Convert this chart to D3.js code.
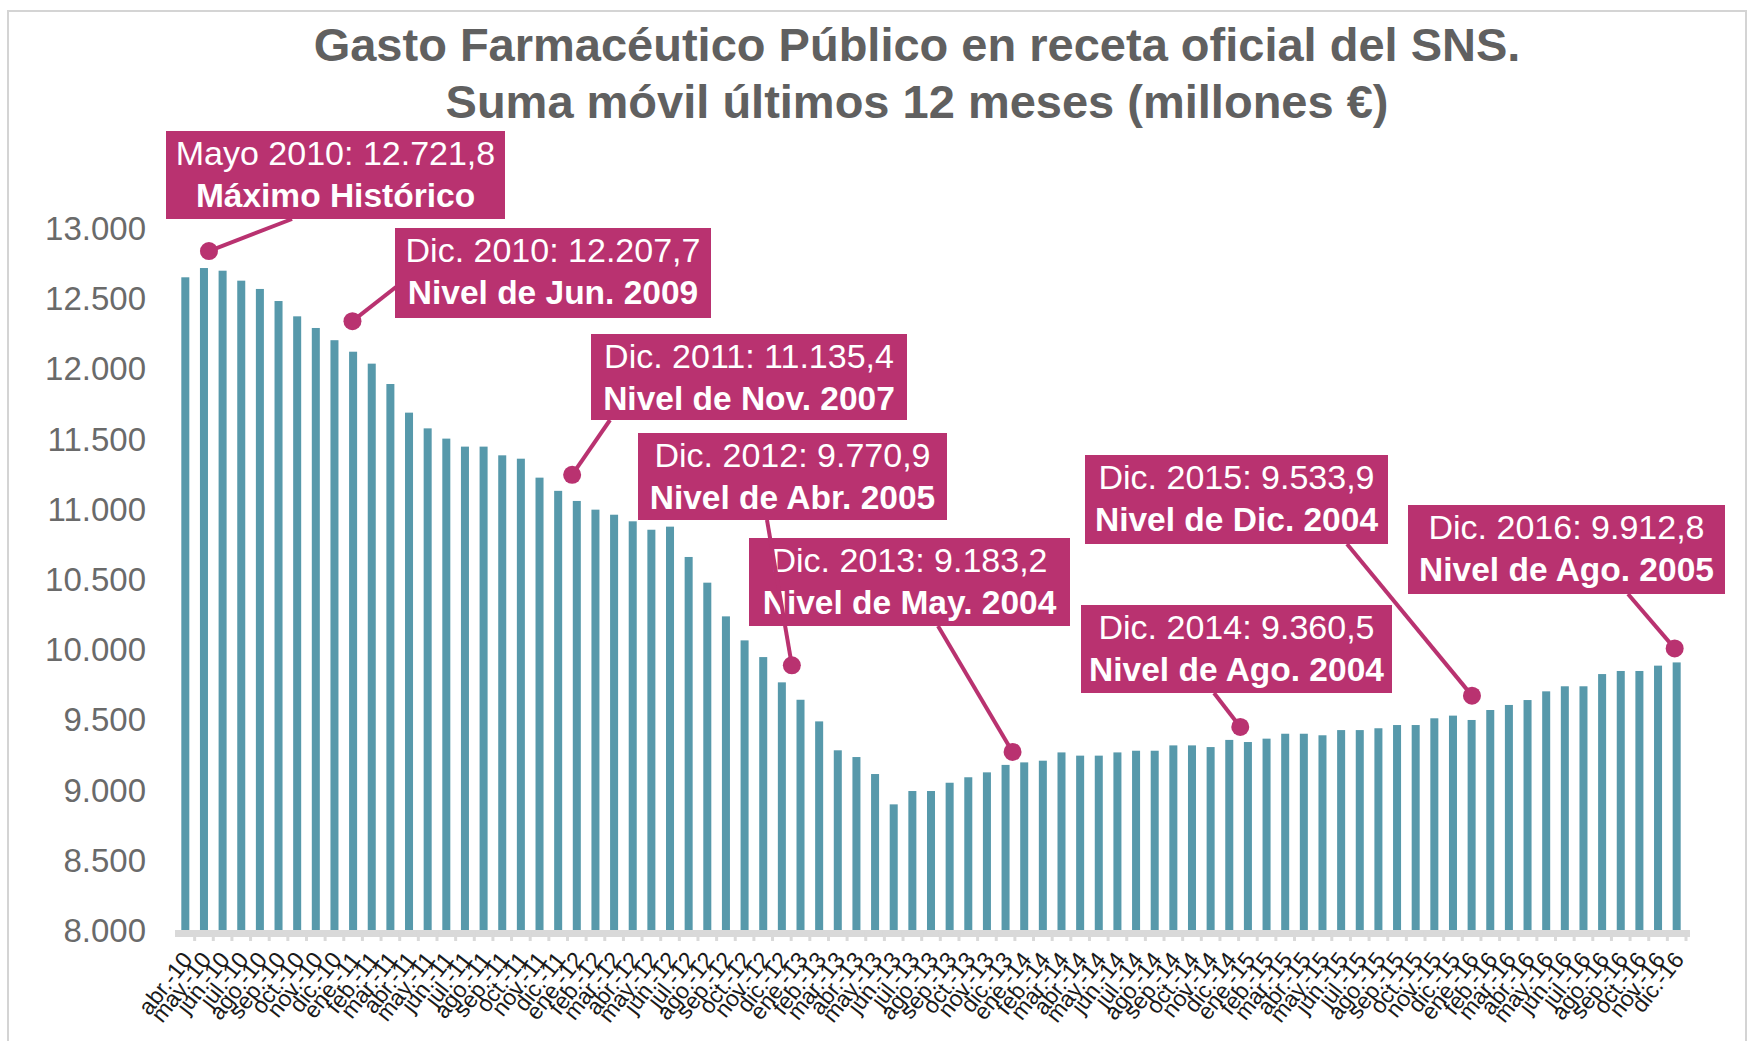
<!DOCTYPE html>
<html>
<head>
<meta charset="utf-8">
<script src="https://cdn.jsdelivr.net/npm/d3@7"></script>
<style>
  body { margin: 0; background: #fff; }
  svg { display: block; font-family: "Liberation Sans", Arial, Helvetica, sans-serif; }
</style>
</head>
<body>
<div id="chart"></div>
<script>
const months = [
  "abr.-10","may.-10","jun.-10","jul.-10","ago.-10","sep.-10","oct.-10","nov.-10","dic.-10",
  "ene.-11","feb.-11","mar.-11","abr.-11","may.-11","jun.-11","jul.-11","ago.-11","sep.-11","oct.-11","nov.-11","dic.-11",
  "ene.-12","feb.-12","mar.-12","abr.-12","may.-12","jun.-12","jul.-12","ago.-12","sep.-12","oct.-12","nov.-12","dic.-12",
  "ene.-13","feb.-13","mar.-13","abr.-13","may.-13","jun.-13","jul.-13","ago.-13","sep.-13","oct.-13","nov.-13","dic.-13",
  "ene.-14","feb.-14","mar.-14","abr.-14","may.-14","jun.-14","jul.-14","ago.-14","sep.-14","oct.-14","nov.-14","dic.-14",
  "ene.-15","feb.-15","mar.-15","abr.-15","may.-15","jun.-15","jul.-15","ago.-15","sep.-15","oct.-15","nov.-15","dic.-15",
  "ene.-16","feb.-16","mar.-16","abr.-16","may.-16","jun.-16","jul.-16","ago.-16","sep.-16","oct.-16","nov.-16","dic.-16"
];

// gasto, suma movil 12 meses (millones de euros)
const gasto = [
  12656, 12722, 12703, 12632, 12573, 12487, 12378, 12295, 12208,
  12126, 12041, 11896, 11692, 11580, 11507, 11450, 11450, 11388, 11364, 11229, 11135,
  11063, 11001, 10965, 10918, 10858, 10880, 10664, 10481, 10241, 10070, 9951, 9771,
  9647, 9493, 9287, 9239, 9118, 8902, 8997, 8997, 9056, 9095, 9130, 9183,
  9201, 9213, 9272, 9249, 9249, 9272, 9284, 9284, 9322, 9322, 9310, 9361,
  9346, 9370, 9405, 9405, 9394, 9431, 9431, 9444, 9467, 9467, 9515, 9534,
  9503, 9574, 9610, 9645, 9707, 9743, 9743, 9830, 9852, 9852, 9890, 9913
];

const yTicks = [8000, 8500, 9000, 9500, 10000, 10500, 11000, 11500, 12000, 12500, 13000];

const callMonths = ["may.-10", "dic.-10", "dic.-11", "dic.-12", "dic.-13", "dic.-14", "dic.-15", "dic.-16"];
const callLine1 = ["Mayo 2010: 12.721,8", "Dic. 2010: 12.207,7", "Dic. 2011: 11.135,4", "Dic. 2012: 9.770,9",
                   "Dic. 2013: 9.183,2", "Dic. 2014: 9.360,5", "Dic. 2015: 9.533,9", "Dic. 2016: 9.912,8"];
const callLine2 = ["Máximo Histórico", "Nivel de Jun. 2009", "Nivel de Nov. 2007", "Nivel de Abr. 2005",
                   "Nivel de May. 2004", "Nivel de Ago. 2004", "Nivel de Dic. 2004", "Nivel de Ago. 2005"];

// layout of the callout boxes (box rect, point where the leader meets the box, dot offset)
const callBox = [
  {x: 166, y: 131, w: 339, h: 88, lx: 292, ly: 219, dx: 5, lift: 17},
  {x: 395, y: 228, w: 316, h: 90, lx: 396, ly: 287, dx: 18, lift: 19},
  {x: 591, y: 334, w: 316, h: 86, lx: 610, ly: 420, dx: 14, lift: 16},
  {x: 638, y: 433, w: 309, h: 87, lx: 767, ly: 520, dx: 10, lift: 17},
  {x: 749, y: 538, w: 321, h: 88, lx: 938, ly: 626, dx: 7, lift: 13},
  {x: 1081, y: 605, w: 311, h: 88, lx: 1214, ly: 693, dx: 11, lift: 13},
  {x: 1085, y: 455, w: 303, h: 89, lx: 1347, ly: 544, dx: 19, lift: 20},
  {x: 1408, y: 505, w: 317, h: 89, lx: 1628, ly: 594, dx: -2, lift: 14}
];

const W = 1751, H = 1041;
const barColor = "#5799ab";
const callColor = "#b93270";

const svg = d3.select("#chart").append("svg")
  .attr("width", W).attr("height", H);

// frame
svg.append("rect")
  .attr("x", 8).attr("y", 11).attr("width", 1738).attr("height", 1045)
  .attr("fill", "none").attr("stroke", "#d4d4d4").attr("stroke-width", 2);

// title
const title = svg.append("text")
  .attr("text-anchor", "middle")
  .attr("fill", "#606060")
  .attr("font-weight", "bold")
  .attr("font-size", 47);
title.append("tspan").attr("x", 917).attr("y", 61).text("Gasto Farmacéutico Público en receta oficial del SNS.");
title.append("tspan").attr("x", 917).attr("y", 118).text("Suma móvil últimos 12 meses (millones €)");

const x = d3.scaleBand()
  .domain(months)
  .range([176, 1686])
  .paddingInner(0.57)
  .paddingOuter(0.285);

const y = d3.scaleLinear()
  .domain([8000, 13000])
  .range([931, 229]);

// bars
svg.append("g")
  .selectAll("rect")
  .data(months)
  .join("rect")
  .attr("x", d => x(d))
  .attr("width", x.bandwidth())
  .attr("y", (d, i) => y(gasto[i]))
  .attr("height", (d, i) => y(8000) - y(gasto[i]))
  .attr("fill", barColor);

// y axis
const yAxis = svg.append("g")
  .attr("transform", "translate(146,0)")
  .call(d3.axisLeft(y).tickValues(yTicks).tickSize(0).tickPadding(0)
    .tickFormat(d => d3.format(",")(d).replace(/,/g, ".")));
yAxis.select(".domain").remove();
yAxis.selectAll("text")
  .attr("font-size", 33)
  .attr("font-family", "Liberation Sans, Arial, sans-serif")
  .attr("fill", "#6a6a6a");

// x axis base
svg.append("rect")
  .attr("x", 175).attr("y", 930).attr("width", 1515).attr("height", 7)
  .attr("fill", "#d9d9d9");

const xAxis = svg.append("g")
  .attr("transform", "translate(0,931)")
  .call(d3.axisBottom(x).tickSize(10).tickSizeOuter(0));
xAxis.select(".domain").remove();
xAxis.selectAll("line")
  .attr("stroke", "#d9d9d9")
  .attr("stroke-width", 3)
  .attr("transform", `translate(${x.step() / 2},0)`);
xAxis.selectAll("text")
  .attr("font-size", 23)
  .attr("font-family", "Liberation Sans, Arial, sans-serif")
  .attr("fill", "#1a1a1a")
  .attr("text-anchor", "end")
  .attr("x", 0).attr("y", 0).attr("dy", "0.35em")
  .attr("transform", "translate(2,24) rotate(-52)");

// callouts
const calls = callMonths.map((m, i) => {
  const idx = months.indexOf(m);
  const b = callBox[i];
  return {
    l1: callLine1[i], l2: callLine2[i], b: b,
    cx: x(m) + x.bandwidth() / 2 + b.dx,
    cy: y(gasto[idx]) - b.lift
  };
});

const cg = svg.append("g");
cg.selectAll("rect.box")
  .data(calls)
  .join("rect")
  .attr("class", "box")
  .attr("x", d => d.b.x).attr("y", d => d.b.y)
  .attr("width", d => d.b.w).attr("height", d => d.b.h)
  .attr("fill", callColor);

cg.selectAll("text.l1")
  .data(calls)
  .join("text")
  .attr("class", "l1")
  .attr("x", d => d.b.x + d.b.w / 2)
  .attr("y", d => d.b.y + 34)
  .attr("text-anchor", "middle")
  .attr("fill", "#fff")
  .attr("font-size", 34)
  .text(d => d.l1);

cg.selectAll("text.l2")
  .data(calls)
  .join("text")
  .attr("class", "l2")
  .attr("x", d => d.b.x + d.b.w / 2)
  .attr("y", d => d.b.y + 76)
  .attr("text-anchor", "middle")
  .attr("fill", "#fff")
  .attr("font-size", 33.5)
  .attr("font-weight", "bold")
  .text(d => d.l2);

cg.selectAll("line.lead")
  .data(calls)
  .join("line")
  .attr("class", "lead")
  .attr("x1", d => d.b.lx).attr("y1", d => d.b.ly)
  .attr("x2", d => d.cx).attr("y2", d => d.cy)
  .attr("stroke", callColor)
  .attr("stroke-width", 4);

cg.selectAll("circle")
  .data(calls)
  .join("circle")
  .attr("cx", d => d.cx).attr("cy", d => d.cy)
  .attr("r", 9)
  .attr("fill", callColor);
</script>
</body>
</html>
